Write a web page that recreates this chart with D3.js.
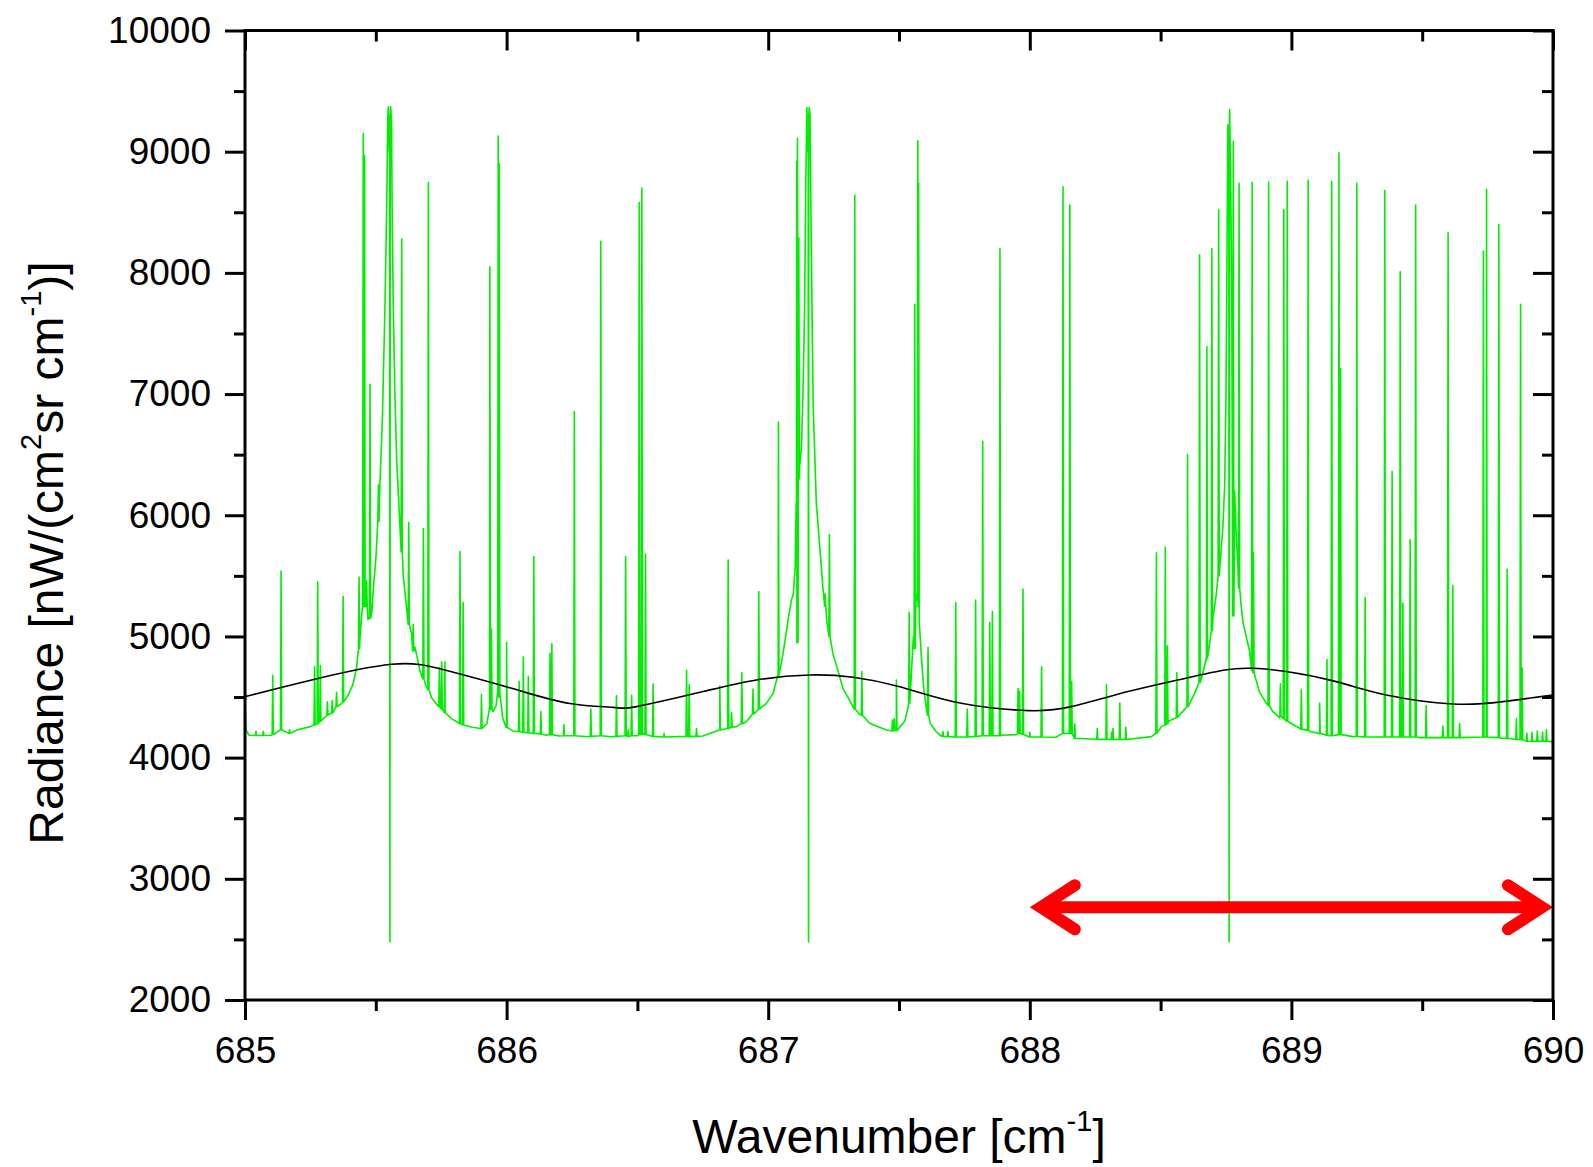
<!DOCTYPE html>
<html>
<head>
<meta charset="utf-8">
<script src="https://cdn.jsdelivr.net/npm/d3@7/dist/d3.min.js"></script>
<style>
  html, body { margin: 0; padding: 0; background: #fff; }
  svg { display: block; font-family: "Liberation Sans", Arial, sans-serif; }
</style>
</head>
<body>
<svg id="chart" width="1593" height="1167"></svg>
<script>
// axis ticks
const xTicks = [685, 686, 687, 688, 689, 690];
const xMinorTicks = [685.5, 686.5, 687.5, 688.5, 689.5];
const yTicks = [2000, 3000, 4000, 5000, 6000, 7000, 8000, 9000, 10000];
const yMinorTicks = [2500, 3500, 4500, 5500, 6500, 7500, 8500, 9500];

// green spectrum: continuum / line wings, [wavenumber, radiance]
const continuum = [
  [685.000, 4480], [685.004, 4230], [685.015, 4185], [685.100, 4185], [685.200, 4230],
  [685.250, 4256], [685.290, 4320], [685.331, 4366], [685.369, 4448], [685.395, 4517],
  [685.414, 4613], [685.427, 4751], [685.439, 4971], [685.447, 5200], [685.462, 5260],
  [685.470, 5140], [685.485, 5200], [685.490, 5380], [685.500, 5634], [685.515, 6208],
  [685.525, 6782], [685.535, 7715], [685.542, 8600], [685.546, 9300], [685.548, 9370],
  [685.551, 9000], [685.557, 9370], [685.560, 9250], [685.563, 8400], [685.567, 7700],
  [685.573, 7000], [685.580, 6450], [685.592, 5920], [685.605, 5500], [685.618, 5230],
  [685.637, 5020], [685.650, 4910], [685.669, 4715], [685.690, 4600], [685.713, 4495],
  [685.740, 4420], [685.765, 4370], [685.790, 4320], [685.815, 4290], [685.841, 4265],
  [685.870, 4250], [685.900, 4240], [685.925, 4280], [685.935, 4420], [685.948, 4380],
  [685.960, 4430], [685.966, 4600], [685.975, 4520], [685.985, 4330], [686.000, 4250],
  [686.030, 4215], [686.100, 4200], [686.150, 4185], [686.200, 4178], [686.300, 4174],
  [686.400, 4172], [686.500, 4180], [686.510, 4230], [686.525, 4200], [686.600, 4170],
  [686.700, 4170], [686.750, 4178], [686.815, 4228], [686.879, 4256], [686.917, 4297],
  [686.955, 4380], [686.993, 4448], [687.019, 4531], [687.038, 4668], [687.057, 4861],
  [687.076, 5136], [687.089, 5301], [687.096, 5350], [687.103, 5563], [687.108, 6100],
  [687.114, 6250], [687.120, 6400], [687.127, 6550], [687.133, 7000], [687.139, 7700],
  [687.144, 8800], [687.148, 9365], [687.151, 9000], [687.157, 9365], [687.160, 9300],
  [687.163, 8600], [687.168, 7600], [687.172, 6900], [687.184, 6100], [687.197, 5742],
  [687.210, 5380], [687.223, 5150], [687.248, 4850], [687.261, 4760], [687.286, 4570],
  [687.312, 4470], [687.350, 4355], [687.388, 4283], [687.452, 4228], [687.490, 4225],
  [687.522, 4300], [687.535, 4420], [687.545, 4600], [687.555, 5000], [687.565, 5350],
  [687.578, 5100], [687.585, 4850], [687.595, 4560], [687.605, 4400], [687.620, 4280],
  [687.640, 4220], [687.660, 4180], [687.700, 4172], [687.800, 4175], [687.890, 4185],
  [687.950, 4190], [688.000, 4172], [688.100, 4168], [688.140, 4200], [688.170, 4165],
  [688.250, 4152], [688.350, 4150], [688.465, 4173], [688.503, 4256], [688.530, 4300],
  [688.566, 4338], [688.605, 4420], [688.630, 4530], [688.656, 4650], [688.675, 4800],
  [688.688, 4950], [688.700, 5150], [688.713, 5350], [688.726, 5560], [688.738, 5900],
  [688.745, 6250], [688.750, 7000], [688.754, 8200], [688.757, 9222], [688.760, 9000],
  [688.764, 9347], [688.768, 8700], [688.772, 7900], [688.777, 7000], [688.783, 6200],
  [688.789, 5850], [688.796, 5550], [688.808, 5250], [688.815, 5120], [688.827, 5000],
  [688.840, 4880], [688.853, 4710], [688.878, 4540], [688.904, 4450], [688.929, 4380],
  [688.955, 4330], [688.968, 4325], [688.993, 4290], [689.031, 4242], [689.070, 4215],
  [689.108, 4201], [689.146, 4180], [689.235, 4173], [689.490, 4165], [689.620, 4165],
  [689.745, 4173], [689.800, 4160], [689.872, 4150], [689.900, 4135], [690.000, 4130]
];

// narrow emission lines: [wavenumber, base, peak]
const emissionLines = [
  [685.042, 4182, 4217], [685.070, 4182, 4217], [685.106, 4190, 4680], [685.138, 4230, 5540],
  [685.170, 4200, 4230], [685.266, 4270, 4750], [685.278, 4280, 5450], [685.288, 4300, 4760],
  [685.315, 4350, 4460], [685.333, 4370, 4470], [685.350, 4420, 4540], [685.375, 4460, 5330],
  [685.436, 4900, 5490], [685.452, 5250, 9150], [685.457, 5250, 8970], [685.465, 5250, 5460],
  [685.478, 5150, 7080], [685.510, 5950, 6250], [685.599, 5700, 8280], [685.626, 5100, 5940],
  [685.643, 4880, 5100], [685.682, 4650, 5890], [685.701, 4560, 8745], [685.743, 4420, 4740],
  [685.752, 4400, 4790], [685.764, 4370, 4790], [685.822, 4280, 5700], [685.834, 4270, 5280],
  [685.904, 4240, 4520], [685.936, 4400, 8050], [685.942, 4400, 5060], [685.968, 4550, 9130],
  [685.972, 4500, 8900], [686.000, 4250, 4950], [686.048, 4215, 4630], [686.064, 4210, 4830],
  [686.083, 4205, 4670], [686.104, 4200, 5660], [686.131, 4195, 4380], [686.166, 4190, 4860],
  [686.173, 4190, 4940], [686.219, 4180, 4270], [686.259, 4180, 6855], [686.322, 4175, 4400],
  [686.360, 4180, 8260], [686.420, 4175, 4510], [686.455, 4180, 5660], [686.465, 4175, 4230],
  [686.478, 4180, 4515], [686.507, 4190, 8580], [686.517, 4190, 8700], [686.531, 4190, 5680],
  [686.560, 4175, 4610], [686.602, 4170, 4200], [686.688, 4175, 4720], [686.698, 4175, 4600],
  [686.726, 4175, 4240], [686.815, 4228, 4590], [686.847, 4240, 5630], [686.860, 4250, 4370],
  [686.899, 4280, 4700], [686.942, 4360, 4565], [686.964, 4400, 5370], [687.039, 4680, 6770],
  [687.109, 6100, 8920], [687.112, 4950, 9110], [687.117, 6300, 8290], [687.218, 5250, 5350],
  [687.234, 5000, 5840], [687.331, 4400, 8640], [687.358, 4350, 4710], [687.475, 4220, 4310],
  [687.482, 4225, 4320], [687.490, 4225, 4640], [687.539, 4450, 5200], [687.560, 4900, 7740],
  [687.572, 5300, 9090], [687.575, 5250, 8740], [687.611, 4350, 4910], [687.668, 4175, 4215],
  [687.687, 4172, 4215], [687.717, 4170, 5280], [687.761, 4170, 4400], [687.793, 4175, 5300],
  [687.820, 4180, 6610], [687.847, 4180, 5115], [687.857, 4180, 5205], [687.886, 4180, 8200],
  [687.955, 4200, 4570], [687.961, 4200, 4545], [687.974, 4190, 5390], [688.000, 4170, 4210],
  [688.045, 4170, 4750], [688.127, 4200, 8710], [688.153, 4200, 8560], [688.160, 4200, 4630],
  [688.172, 4160, 4280], [688.258, 4150, 4240], [688.293, 4150, 4600], [688.313, 4150, 4210],
  [688.318, 4150, 4240], [688.344, 4150, 4450], [688.367, 4150, 4250], [688.484, 4200, 5690],
  [688.518, 4270, 5735], [688.526, 4280, 4920], [688.562, 4330, 4700], [688.603, 4420, 6500],
  [688.649, 4620, 8150], [688.677, 4820, 7390], [688.696, 5050, 8200], [688.722, 5500, 8520],
  [688.778, 5170, 9085], [688.800, 5400, 8740], [688.850, 4720, 8745], [688.855, 4700, 5690],
  [688.913, 4430, 8750], [688.958, 4340, 4610], [688.971, 4320, 8520], [688.984, 4300, 8755],
  [689.038, 4235, 4560], [689.064, 4225, 8765], [689.108, 4200, 4450], [689.136, 4185, 4810],
  [689.154, 4180, 8755], [689.182, 4190, 8990], [689.188, 4190, 7210], [689.250, 4175, 8740],
  [689.282, 4170, 5320], [689.357, 4170, 8680], [689.385, 4170, 6360], [689.416, 4170, 8010],
  [689.426, 4170, 5275], [689.454, 4170, 5800], [689.475, 4170, 8560], [689.515, 4165, 4430],
  [689.579, 4165, 4260], [689.599, 4165, 8330], [689.617, 4165, 5420], [689.643, 4165, 4280],
  [689.734, 4170, 8180], [689.746, 4170, 8690], [689.793, 4165, 8400], [689.825, 4160, 5555],
  [689.860, 4150, 4320], [689.876, 4150, 7740], [689.882, 4150, 4740], [689.900, 4135, 4200],
  [689.920, 4135, 4210], [689.940, 4135, 4220], [689.960, 4135, 4210], [689.975, 4135, 4230]
];

// deep downward spikes at the three band centres: [wavenumber, base, minimum]
const absorptionDips = [[685.554, 9300, 2480], [687.154, 9300, 2480], [688.762, 9100, 2480]];

// smooth black curve, [wavenumber, radiance]
const modelCurve = [
  [685.000, 4503], [685.255, 4641], [685.560, 4770], [685.764, 4723], [686.019, 4572],
  [686.242, 4446], [686.408, 4415], [686.497, 4421], [686.751, 4545], [686.955, 4641],
  [687.159, 4682], [687.325, 4663], [687.503, 4585], [687.738, 4448], [687.993, 4388],
  [688.159, 4421], [688.375, 4545], [688.566, 4641], [688.745, 4723], [688.853, 4737],
  [688.980, 4710], [689.171, 4627], [689.363, 4517], [689.617, 4443], [689.808, 4462],
  [690.000, 4517]
];

// red double arrow
const arrowSpan = [688.0, 690.0];
const arrowLevel = 2765;

const size = { width: 1593, height: 1167 };
const margin = { left: 245, right: 40, top: 30.5, bottom: 167 };
const plotW = size.width - margin.left - margin.right;
const plotH = size.height - margin.top - margin.bottom;

const svg = d3.select('#chart');

const x = d3.scaleLinear().domain([685, 690]).range([margin.left, margin.left + plotW]);
const y = d3.scaleLinear().domain([2000, 10000]).range([margin.top + plotH, margin.top]);

// clip to plot area
svg.append('defs').append('clipPath').attr('id', 'plot-clip')
  .append('rect')
  .attr('x', margin.left).attr('y', margin.top)
  .attr('width', plotW).attr('height', plotH);

// build the spectrum polyline from continuum + lines
const delta = 0.0022;
const spectrum = continuum.map(d => [d[0], d[1]]);
emissionLines.forEach(([w, base, top]) => {
  spectrum.push([w - delta, base], [w, top], [w + delta, base]);
});
absorptionDips.forEach(([w, base, low]) => {
  spectrum.push([w - delta / 2, base], [w, low], [w + delta / 2, base]);
});
spectrum.sort((a, b) => a[0] - b[0]);

const plot = svg.append('g').attr('clip-path', 'url(#plot-clip)');

plot.append('path')
  .datum(spectrum)
  .attr('fill', 'none')
  .attr('stroke', '#00ee00')
  .attr('stroke-width', 1.6)
  .attr('stroke-linejoin', 'round')
  .attr('d', d3.line().x(d => x(d[0])).y(d => y(d[1])));

plot.append('path')
  .datum(modelCurve)
  .attr('fill', 'none')
  .attr('stroke', '#000')
  .attr('stroke-width', 1.6)
  .attr('d', d3.line().curve(d3.curveNatural).x(d => x(d[0])).y(d => y(d[1])));

// arrow
const arrowW = 12, armDx = 34, armDy = 22;
const miter = (arrowW / 2) / Math.sin(Math.atan2(armDy, armDx));
const ay = y(arrowLevel);
const vL = x(arrowSpan[0]) + miter;
const vR = x(arrowSpan[1]) - miter;
const arrow = svg.append('g')
  .attr('fill', 'none')
  .attr('stroke', '#ff0000')
  .attr('stroke-width', arrowW);
arrow.append('line')
  .attr('x1', vL).attr('x2', vR)
  .attr('y1', ay).attr('y2', ay);
arrow.append('path')
  .attr('stroke-linecap', 'round')
  .attr('stroke-linejoin', 'miter')
  .attr('d', `M${vL + armDx},${ay - armDy}L${vL},${ay}L${vL + armDx},${ay + armDy}`);
arrow.append('path')
  .attr('stroke-linecap', 'round')
  .attr('stroke-linejoin', 'miter')
  .attr('d', `M${vR - armDx},${ay - armDy}L${vR},${ay}L${vR - armDx},${ay + armDy}`);

// axes
const major = 20, minor = 11;
const styleAxis = g => {
  g.select('.domain').remove();
  g.selectAll('.tick line').attr('stroke', '#000').attr('stroke-width', 3);
  g.selectAll('.tick text').attr('fill', '#000').style('font-size', '37px')
    .style('font-family', '"Liberation Sans", Arial, sans-serif');
};

const bottom = margin.top + plotH;
const right = margin.left + plotW;

svg.append('g').attr('transform', `translate(0,${bottom})`)
  .call(d3.axisBottom(x).tickValues(xTicks).tickSize(major).tickPadding(17).tickFormat(d3.format('d')))
  .call(styleAxis);
svg.append('g').attr('transform', `translate(0,${bottom})`)
  .call(d3.axisBottom(x).tickValues(xMinorTicks).tickSize(minor).tickFormat(''))
  .call(styleAxis);

svg.append('g').attr('transform', `translate(${margin.left},0)`)
  .call(d3.axisLeft(y).tickValues(yTicks).tickSize(major).tickPadding(14).tickFormat(d3.format('d')))
  .call(styleAxis);
svg.append('g').attr('transform', `translate(${margin.left},0)`)
  .call(d3.axisLeft(y).tickValues(yMinorTicks).tickSize(minor).tickFormat(''))
  .call(styleAxis);

// top and right: ticks pointing inward, no labels
svg.append('g').attr('transform', `translate(0,${margin.top})`)
  .call(d3.axisTop(x).tickValues(xTicks).tickSize(-major).tickFormat(''))
  .call(styleAxis);
svg.append('g').attr('transform', `translate(0,${margin.top})`)
  .call(d3.axisTop(x).tickValues(xMinorTicks).tickSize(-minor).tickFormat(''))
  .call(styleAxis);
svg.append('g').attr('transform', `translate(${right},0)`)
  .call(d3.axisRight(y).tickValues(yTicks).tickSize(-major).tickFormat(''))
  .call(styleAxis);
svg.append('g').attr('transform', `translate(${right},0)`)
  .call(d3.axisRight(y).tickValues(yMinorTicks).tickSize(-minor).tickFormat(''))
  .call(styleAxis);

// frame
svg.append('rect')
  .attr('x', margin.left).attr('y', margin.top)
  .attr('width', plotW).attr('height', plotH)
  .attr('fill', 'none')
  .attr('stroke', '#000')
  .attr('stroke-width', 3);

// axis titles
const xTitle = svg.append('text')
  .attr('x', margin.left + plotW / 2)
  .attr('y', 1153)
  .attr('text-anchor', 'middle')
  .style('font-size', '48px');
xTitle.append('tspan').text('Wavenumber [cm');
xTitle.append('tspan').attr('dy', -22).style('font-size', '29px').text('-1');
xTitle.append('tspan').attr('dy', 22).text(']');

const yTitle = svg.append('text')
  .attr('transform', 'translate(63,553) rotate(-90)')
  .attr('text-anchor', 'middle')
  .style('font-size', '48px');
yTitle.append('tspan').text('Radiance [nW/(cm');
yTitle.append('tspan').attr('dy', -22).style('font-size', '29px').text('2');
yTitle.append('tspan').attr('dy', 22).text('sr cm');
yTitle.append('tspan').attr('dy', -22).style('font-size', '29px').text('-1');
yTitle.append('tspan').attr('dy', 22).text(')]');
</script>
</body>
</html>
